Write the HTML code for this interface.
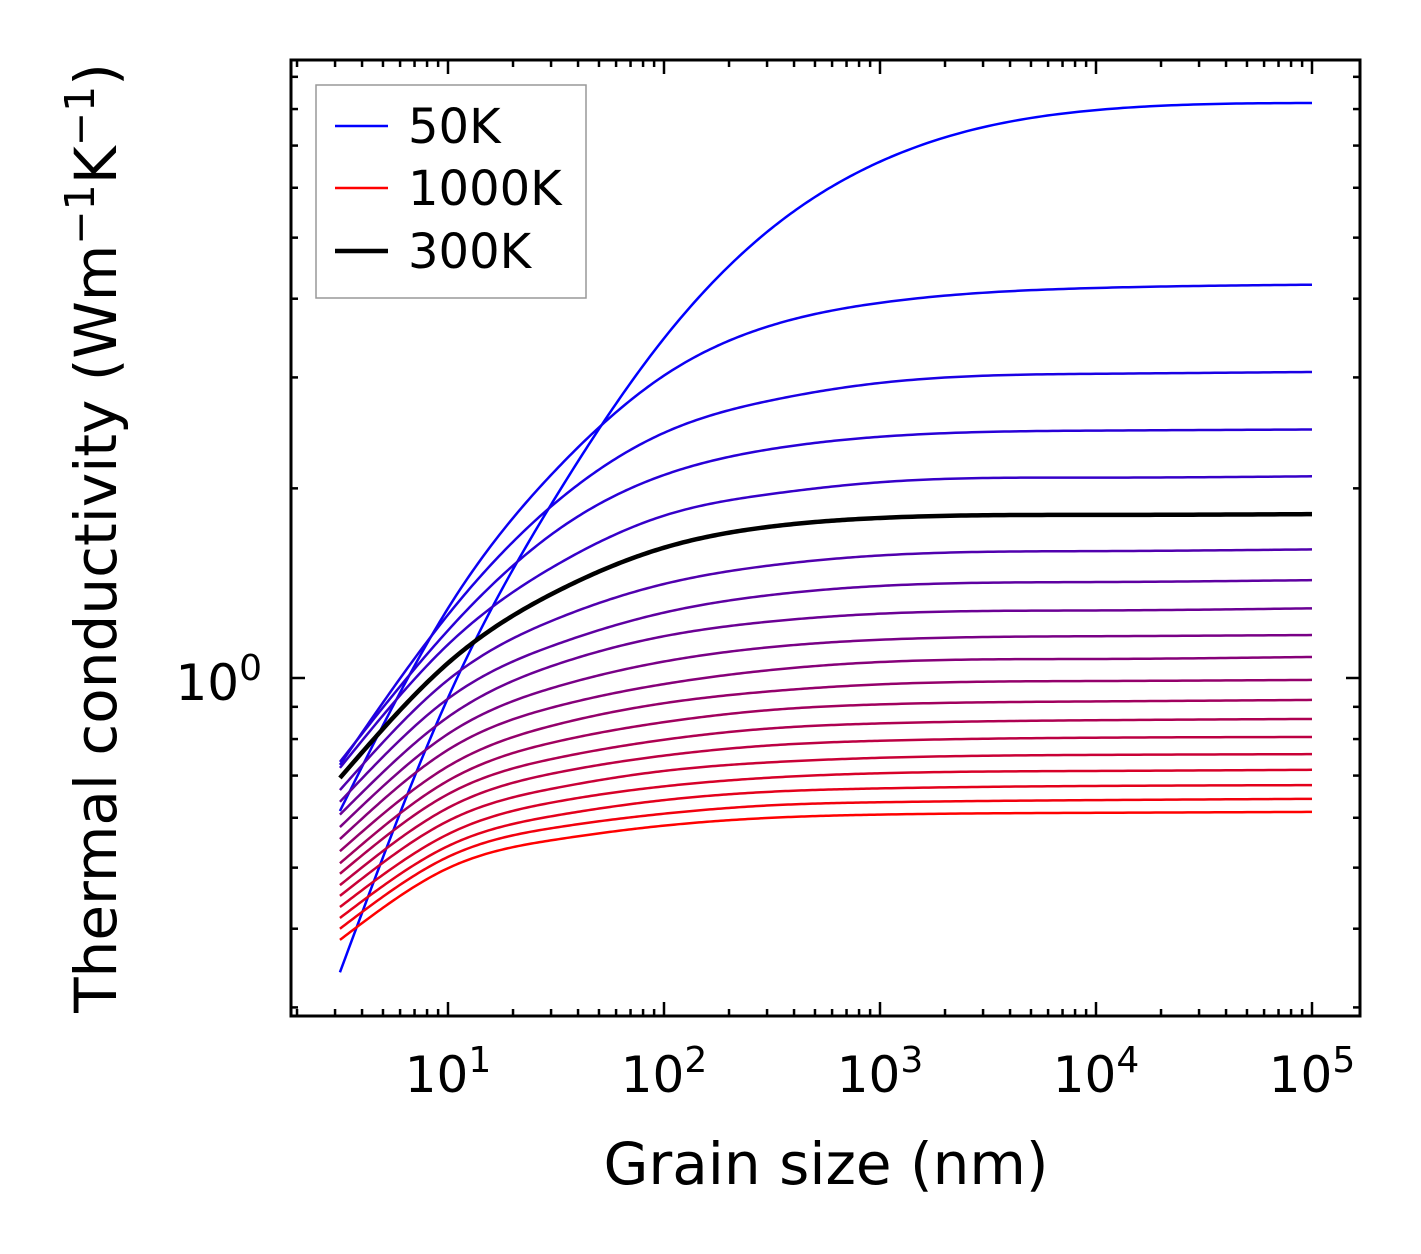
<!DOCTYPE html>
<html><head><meta charset="utf-8"><style>
html,body{margin:0;padding:0;background:#fff;}
svg{display:block;font-family:"DejaVu Sans","Liberation Sans",sans-serif;}
</style></head><body>
<svg id="chart" width="1421" height="1254" viewBox="0 0 1421 1254" xmlns="http://www.w3.org/2000/svg">
<rect width="1421" height="1254" fill="#fff"/>
<g id="curves"></g>
<g id="ticks"></g>
<rect x="291" y="60" width="1069" height="956" fill="none" stroke="#000" stroke-width="3"/>
<g id="xlabels" font-size="50" text-anchor="middle"></g>
<text x="262" y="700" font-size="50" text-anchor="end">10<tspan dy="-20" font-size="36">0</tspan></text>
<text x="826" y="1184" font-size="58" text-anchor="middle">Grain size (nm)</text>
<text transform="translate(116,538) rotate(-90)" font-size="58" text-anchor="middle">Thermal conductivity (Wm<tspan dy="-22" font-size="41">−1</tspan><tspan dy="22">K</tspan><tspan dy="-22" font-size="41">−1</tspan><tspan dy="22">)</tspan></text>
<g>
<rect x="316" y="85" width="270" height="213" fill="#fff" stroke="#999" stroke-width="1.5"/>
<line x1="335" y1="126" x2="388" y2="126" stroke="#0000ff" stroke-width="2.5"/>
<text x="408" y="143" font-size="48">50K</text>
<line x1="335" y1="188" x2="388" y2="188" stroke="#ff0000" stroke-width="2.5"/>
<text x="408" y="205" font-size="48">1000K</text>
<line x1="335" y1="251" x2="388" y2="251" stroke="#000" stroke-width="4.5"/>
<text x="408" y="268" font-size="48">300K</text>
</g>
</svg>
<script>
const grainSizes = [3.16, 10, 31.6, 100, 316, 1000, 10000, 100000];
const temperatures = [50,100,150,200,250,300,350,400,450,500,550,600,650,700,750,800,850,900,950,1000];
const k50 = [0.341, 0.93, 1.94, 3.46, 5.18, 6.6, 7.97, 8.18];
const k100 = [0.615, 1.29, 2.14, 3.02, 3.63, 3.94, 4.16, 4.21];
const k150 = [0.728, 1.26, 1.90, 2.45, 2.76, 2.94, 3.04, 3.06];
const k200 = [0.736, 1.19, 1.71, 2.10, 2.31, 2.415, 2.47, 2.48];
const k250 = [0.720, 1.13, 1.51, 1.81, 1.96, 2.045, 2.08, 2.09];
const k300 = [0.694, 1.056, 1.37, 1.61, 1.74, 1.795, 1.815, 1.82];
const k350 = [0.664, 0.993, 1.24, 1.41, 1.51, 1.565, 1.59, 1.60];
const k400 = [0.636, 0.927, 1.13, 1.27, 1.355, 1.40, 1.42, 1.43];
const k450 = [0.607, 0.867, 1.05, 1.165, 1.23, 1.265, 1.28, 1.29];
const k500 = [0.580, 0.815, 0.968, 1.062, 1.12, 1.15, 1.165, 1.17];
const k550 = [0.555, 0.769, 0.901, 0.978, 1.03, 1.06, 1.072, 1.08];
const k600 = [0.531, 0.724, 0.843, 0.912, 0.953, 0.977, 0.989, 0.993];
const k650 = [0.508, 0.687, 0.792, 0.851, 0.890, 0.908, 0.918, 0.923];
const k700 = [0.489, 0.654, 0.746, 0.798, 0.832, 0.847, 0.857, 0.861];
const k750 = [0.469, 0.622, 0.707, 0.753, 0.782, 0.795, 0.804, 0.806];
const k800 = [0.451, 0.593, 0.669, 0.712, 0.735, 0.747, 0.755, 0.757];
const k850 = [0.433, 0.565, 0.636, 0.673, 0.695, 0.706, 0.712, 0.715];
const k900 = [0.416, 0.541, 0.605, 0.640, 0.660, 0.668, 0.674, 0.676];
const k950 = [0.400, 0.520, 0.579, 0.609, 0.628, 0.635, 0.640, 0.643];
const k1000 = [0.384, 0.499, 0.554, 0.583, 0.600, 0.607, 0.611, 0.613];
const series = [k50,k100,k150,k200,k250,k300,k350,k400,k450,k500,k550,k600,k650,k700,k750,k800,k850,k900,k950,k1000];
const xTickLabels = ["1","2","3","4","5"];

const NS = "http://www.w3.org/2000/svg";
function xScale(v){ return 448 + 216*(Math.log10(v)-1); }
function yScale(v){ return 678 - 630*Math.log10(v); }

// Natural cubic spline through pixel points, sampled densely
function splinePath(pts){
  const n = pts.length, xs = pts.map(p=>p[0]), ys = pts.map(p=>p[1]);
  const h = [];
  for (let i=0;i<n-1;i++) h.push(xs[i+1]-xs[i]);
  const a = new Array(n).fill(0), b = new Array(n).fill(1), c = new Array(n).fill(0), r = new Array(n).fill(0);
  for (let i=1;i<n-1;i++){
    a[i]=h[i-1]; b[i]=2*(h[i-1]+h[i]); c[i]=h[i];
    r[i]=6*((ys[i+1]-ys[i])/h[i]-(ys[i]-ys[i-1])/h[i-1]);
  }
  const cp = new Array(n).fill(0), rp = new Array(n).fill(0);
  cp[0]=c[0]/b[0]; rp[0]=r[0]/b[0];
  for (let i=1;i<n;i++){
    const den=b[i]-a[i]*cp[i-1];
    cp[i]=c[i]/den; rp[i]=(r[i]-a[i]*rp[i-1])/den;
  }
  const M = new Array(n).fill(0);
  M[n-1]=rp[n-1];
  for (let i=n-2;i>=0;i--) M[i]=rp[i]-cp[i]*M[i+1];
  let d = "M"+xs[0].toFixed(2)+","+ys[0].toFixed(2);
  for (let i=0;i<n-1;i++){
    const steps = 40;
    for (let k=1;k<=steps;k++){
      const x = xs[i]+h[i]*k/steps;
      const A=(xs[i+1]-x)/h[i], B=(x-xs[i])/h[i];
      const y = A*ys[i]+B*ys[i+1]+((A*A*A-A)*M[i]+(B*B*B-B)*M[i+1])*h[i]*h[i]/6;
      d += " L"+x.toFixed(2)+","+y.toFixed(2);
    }
  }
  return d;
}

const cg = document.getElementById("curves");
let blackPath = null;
series.forEach((vals, i) => {
  const pts = vals.map((v, j) => [xScale(grainSizes[j]), yScale(v)]);
  const p = document.createElementNS(NS, "path");
  p.setAttribute("d", splinePath(pts));
  p.setAttribute("fill", "none");
  p.setAttribute("stroke-linejoin", "round");
  const T = temperatures[i];
  if (T === 300) {
    p.setAttribute("stroke", "#000");
    p.setAttribute("stroke-width", "4.5");
    blackPath = p;
  } else {
    const t = i/(series.length-1);
    p.setAttribute("stroke", "rgb("+Math.round(255*t)+",0,"+Math.round(255*(1-t))+")");
    p.setAttribute("stroke-width", "2.5");
  }
  
  
  cg.appendChild(p);
});
if (blackPath) cg.appendChild(blackPath);

const tg = document.getElementById("ticks");
function tick(x1,y1,x2,y2,name){
  const l = document.createElementNS(NS,"line");
  l.setAttribute("x1",x1); l.setAttribute("y1",y1); l.setAttribute("x2",x2); l.setAttribute("y2",y2);
  l.setAttribute("stroke","#000"); l.setAttribute("stroke-width","2.5");
  
  
  tg.appendChild(l);
}
for (let e=0; e<=5; e++){
  for (let m=1; m<=9; m++){
    const v = m*Math.pow(10,e);
    const x = xScale(v);
    if (x < 293 || x > 1358) continue;
    const len = m===1 ? 14 : 7;
    tick(x,1016,x,1016-len,'x-tick');
    tick(x,60,x,60+len,'x-tick-top');
  }
}
for (let e=-1; e<=0; e++){
  for (let m=1; m<=9; m++){
    const v = m*Math.pow(10,e);
    const y = yScale(v);
    if (y < 62 || y > 1014) continue;
    const len = (e===0 && m===1) ? 14 : 7;
    tick(291,y,291+len,y,'y-tick');
    tick(1360,y,1360-len,y,'y-tick-right');
  }
}
const xg = document.getElementById("xlabels");
xTickLabels.forEach((s) => {
  const t = document.createElementNS(NS,"text");
  t.setAttribute("x", xScale(Math.pow(10, +s)));
  t.setAttribute("y", 1092);
  t.innerHTML = '10<tspan dy="-20" font-size="36">'+s+'</tspan>';
  
  
  xg.appendChild(t);
});
</script>
</body></html>
